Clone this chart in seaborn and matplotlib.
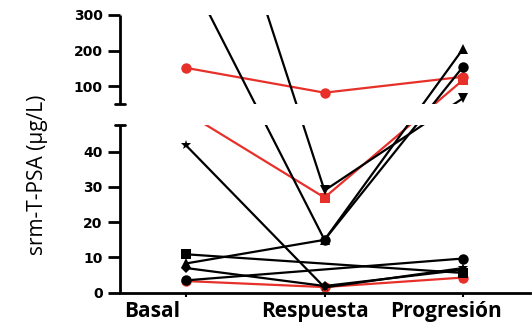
import numpy as np
import pandas as pd
import matplotlib
matplotlib.use("Agg")
import matplotlib.pyplot as plt
import seaborn as sns
from matplotlib.transforms import ScaledTranslation

# ---- data ----
stages = ["Basal", "Respuesta", "Progresión"]
basal      = [430, 8.3, 1000, 152, 49, 3.3, 41.8, 10.9, 3.5, 7.0]
respuesta  = [15, 15, 29, 82.5, 27, 1.6, 1.5, np.nan, np.nan, 1.9]
progresion = [155, 205, 67, 127, 118, 4.3, 7.0, 5.6, 9.7, 6.5]
colors  = ["black", "black", "black", "#e8302a", "#e8302a", "#e8302a",
           "black", "black", "black", "black"]
markers = ["o", "^", "v", "o", "s", "o", "*", "s", "o", "D"]
y_ticks = [0, 10, 20, 30, 40, 100, 200, 300]

# broken-axis layout (lower 0-47.5, upper 50-300)
L, U = 47.5, 50.0
a, b, gap = 3.525, 89.3 / 250.0, 21.0

def fwd(v):
    v = np.asarray(v, float)
    return np.where(v <= L, v * a,
                    np.where(v >= U, L * a + gap + (v - U) * b,
                             L * a + (v - L) * gap / (U - L)))

def inv(p):
    p = np.asarray(p, float)
    pL, pU = L * a, L * a + gap
    return np.where(p <= pL, p / a,
                    np.where(p >= pU, U + (p - pU) / b,
                             L + (p - pL) * (U - L) / gap))

sns.set_style("ticks")
plt.rcParams.update({"text.color": "black", "axes.labelcolor": "black",
                     "xtick.color": "black", "ytick.color": "black"})
W, H = 532, 333
fig = plt.figure(figsize=(W / 100, H / 100), dpi=100)
ax = fig.add_axes([120 / W, 1 - 292.7 / H, 410 / W, (292.7 - 15) / H])

for i in range(len(basal)):
    df = pd.DataFrame({"x": [0, 1, 2],
                       "y": [basal[i], respuesta[i], progresion[i]]}).dropna()
    sns.lineplot(data=df, x="x", y="y", ax=ax, color=colors[i],
                 marker=markers[i], markersize=7.5 if markers[i] != "D" else 5.5,
                 markeredgewidth=0, linewidth=1.6, estimator=None, sort=False,
                 zorder=3 if colors[i] == "black" else 2)

ax.set_yscale("function", functions=(fwd, inv))
ax.set_ylim(0, 300)
ax.set_xlim(-0.477, 2.484)

# hide gap
ax.axhspan(L, U, color="white", zorder=5, lw=0)

# split left spine
ax.spines["left"].set_visible(False)
ax.spines["top"].set_visible(False)
ax.spines["right"].set_visible(False)
ax.spines["bottom"].set_linewidth(2)
ax.spines["bottom"].set_color("black")
tr = ax.get_yaxis_transform()
for lo, hi in [(0, L), (U, 300)]:
    ax.plot([0, 0], [lo, hi], transform=tr, color="k", lw=2,
            clip_on=False, zorder=6, solid_capstyle="butt")
for yy in [L, U]:
    ax.plot([-0.012, 0.012], [yy, yy], transform=tr, color="k", lw=2,
            clip_on=False, zorder=6)

ax.set_yticks(y_ticks)
ax.set_yticklabels([str(t) for t in y_ticks])
ax.set_xticks([0, 1, 2])
ax.set_xticklabels(stages)
ax.tick_params(axis="y", direction="out", length=8.5, width=2, pad=4)
ax.tick_params(axis="x", direction="out", length=3, width=1.5, pad=3)
for lab in ax.get_yticklabels():
    lab.set_fontfamily("DejaVu Sans")
    lab.set_fontweight("bold")
    lab.set_fontsize(10)
offsets = [-34, -10, -17]
for lab, off in zip(ax.get_xticklabels(), offsets):
    lab.set_fontfamily("Open Sans")
    lab.set_fontweight("bold")
    lab.set_fontsize(15)
    lab.set_transform(lab.get_transform() + ScaledTranslation(off / 100, 0, fig.dpi_scale_trans))

ax.set_xlabel("")
ax.set_ylabel("srm-T-PSA (µg/L)", fontfamily="Open Sans", fontsize=15)
ax.yaxis.set_label_coords(-0.176, 0.424)

fig.savefig("out.png", dpi=100)
